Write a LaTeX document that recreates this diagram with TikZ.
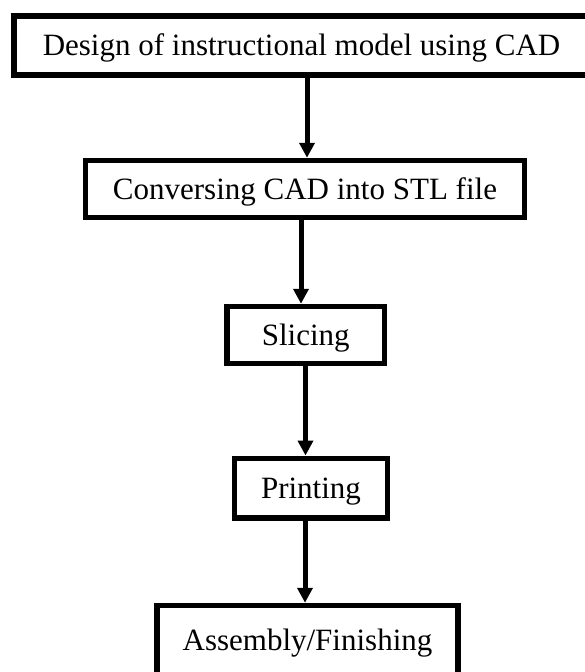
\documentclass[tikz,border=0pt]{standalone}
\usepackage{fontspec}
\setmainfont{Liberation Serif}
\usetikzlibrary{arrows.meta}

\tikzset{
  box/.style={draw, line width=5.5pt, inner sep=0pt, minimum height=57pt,
    text height=20.5pt, text depth=0pt, font=\fontsize{31}{37}\selectfont},
  flow/.style={line width=5pt, -{Triangle[width=15pt,length=15pt]}}
}

\begin{document}
\begin{tikzpicture}[x=1pt,y=-1pt]
\useasboundingbox (0,0) rectangle (585,672);
% steps
\node[box, minimum width=575pt, minimum height=59pt] (design) at (301.5,45.5) {Design of instructional model using CAD};
\node[box, minimum width=439pt] (convert) at (305,189) {Conversing CAD into STL file};
\node[box, minimum width=157.5pt] (slice) at (305.7,335) {Slicing};
\node[box, minimum width=153pt, minimum height=59.5pt] (print) at (311,488) {Printing};
\node[box, minimum width=301pt, minimum height=70pt] (assemble) at (307.5,640.5) {Assembly/Finishing};
% arrows
\draw[flow] (design.south -| 307,0) -- (convert.north -| 307,0);
\draw[flow] (convert.south -| 301,0) -- (slice.north -| 301,0);
\draw[flow] (slice.south -| 305.5,0) -- (print.north -| 305.5,0);
\draw[flow] (print.south -| 305,0) -- (assemble.north -| 305,0);
\end{tikzpicture}
\end{document}
